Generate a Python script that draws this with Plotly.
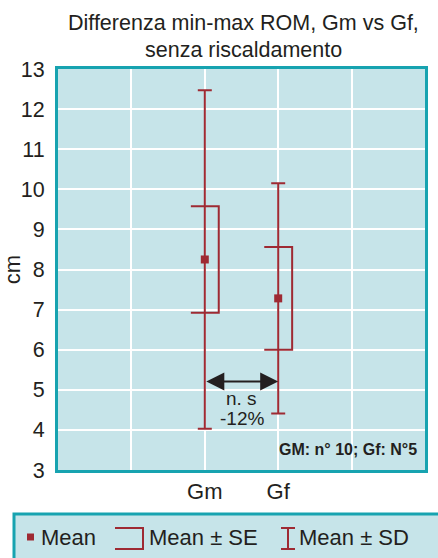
import plotly.graph_objects as go

categories = ["Gm", "Gf"]
cat_pos = [2, 3]
means = [8.25, 7.28]
se = [1.33, 1.28]
sd = [4.22, 2.87]
y_ticks = [3, 4, 5, 6, 7, 8, 9, 10, 11, 12, 13]
arrow_y = 5.21
sig_text = "n. s"
diff_text = "-12%"
note_text = "GM: n° 10; Gf: N°5"
title_lines = ["Differenza min-max ROM, Gm vs Gf,", "senza riscaldamento"]

RED = "#9e2a33"
TEAL = "#17a3b0"
BG = "#c6e4e9"
FONT = "Liberation Sans Narrow, Arial Narrow, Liberation Sans, sans-serif"
FONT_REG = "Liberation Sans, Arial, sans-serif"
TXT = "#231f20"

fig = go.Figure()

# SE brackets
hw = 0.19
for x, m, s in zip(cat_pos, means, se):
    fig.add_trace(go.Scatter(
        x=[x - hw, x + hw, x + hw, x - hw],
        y=[m + s, m + s, m - s, m - s],
        mode="lines", line=dict(color=RED, width=2),
        hoverinfo="skip", showlegend=False))

# Mean with SD error bars
fig.add_trace(go.Scatter(
    x=cat_pos, y=means, mode="markers",
    marker=dict(symbol="square", size=8, color=RED),
    error_y=dict(type="data", array=sd, visible=True, color=RED,
                 thickness=2, width=7),
    showlegend=False))

# double arrow
fig.add_annotation(x=cat_pos[1], y=arrow_y, ax=cat_pos[0], ay=arrow_y,
                   xref="x", yref="y", axref="x", ayref="y",
                   text="", showarrow=True, arrowhead=2, arrowside="end+start",
                   arrowsize=1.8, arrowwidth=2, arrowcolor=TXT)
xm = (cat_pos[0] + cat_pos[1]) / 2
fig.add_annotation(x=xm, y=arrow_y - 0.43, xref="x", yref="y", text=sig_text,
                   showarrow=False, yanchor="middle",
                   font=dict(family=FONT, size=19, color=TXT))
fig.add_annotation(x=xm, y=arrow_y - 0.93, xref="x", yref="y", text=diff_text,
                   showarrow=False, yanchor="middle",
                   font=dict(family=FONT, size=19, color=TXT))
fig.add_annotation(x=0.985, y=0.025, xref="paper", yref="paper",
                   xanchor="right", yanchor="bottom", text="<b>" + note_text + "</b>",
                   showarrow=False, font=dict(family=FONT, size=16, color=TXT))

px = 367.0
pyh = 401.0
def xp(p):
    return (p - 58) / px
def yp(p):
    return (470 - p) / pyh

# title
for t, yy in zip(title_lines, [23, 50]):
    fig.add_annotation(x=xp(243), y=yp(yy), xref="paper", yref="paper",
                       xanchor="center", yanchor="middle", showarrow=False,
                       text=t, font=dict(family=FONT, size=21.5, color=TXT))

# legend box (drawn)
fig.add_shape(type="rect", xref="paper", yref="paper",
              x0=xp(14), x1=1.2, y0=yp(514), y1=-0.25,
              line=dict(color=TEAL, width=3), fillcolor=BG, layer="below")
leg_y = 537
fig.add_shape(type="rect", xref="paper", yref="paper",
              x0=xp(27), x1=xp(34), y0=yp(leg_y - 3.5), y1=yp(leg_y + 3.5),
              fillcolor=RED, line=dict(width=0))
fig.add_shape(type="path", xref="paper", yref="paper",
              path=f"M {xp(115)},{yp(528)} L {xp(143)},{yp(528)} L {xp(143)},{yp(549)} L {xp(115)},{yp(549)}",
              line=dict(color=RED, width=2))
fig.add_shape(type="path", xref="paper", yref="paper",
              path=f"M {xp(281)},{yp(528)} L {xp(295)},{yp(528)} M {xp(288)},{yp(528)} L {xp(288)},{yp(549)} M {xp(281)},{yp(549)} L {xp(295)},{yp(549)}",
              line=dict(color=RED, width=2))
for tx, t in [(39, "Mean"), (147, "Mean ± SE"), (297, "Mean ± SD")]:
    fig.add_annotation(x=xp(tx), y=yp(leg_y), xref="paper", yref="paper",
                       xanchor="left", yanchor="middle", text=t, showarrow=False,
                       font=dict(family=FONT, size=22, color=TXT))

fig.update_layout(
    width=438, height=558,
    margin=dict(l=58, r=13, t=69, b=88, autoexpand=False),
    paper_bgcolor="white", plot_bgcolor=BG,
    font=dict(family=FONT, color=TXT),
)
fig.update_xaxes(range=[0, 5], tickvals=[1, 2, 3, 4], ticktext=["", "Gm", "Gf", ""],
                 showgrid=True, gridcolor="white", gridwidth=1.5, zeroline=False,
                 showline=True, linecolor=TEAL, linewidth=3, mirror=True,
                 ticks="", automargin=False, tickfont=dict(size=22, family=FONT, color=TXT))
fig.update_yaxes(range=[3, 13], tickvals=y_ticks,
                 showgrid=True, gridcolor="white", gridwidth=1.5, zeroline=False,
                 showline=True, linecolor=TEAL, linewidth=3, mirror=True,
                 ticks="", ticklabelstandoff=6, automargin=False,
                 tickfont=dict(size=21.5, family=FONT_REG, color=TXT),
                 title=dict(text="cm", font=dict(size=22, family=FONT, color=TXT), standoff=2))

fig.write_html("out.html")
